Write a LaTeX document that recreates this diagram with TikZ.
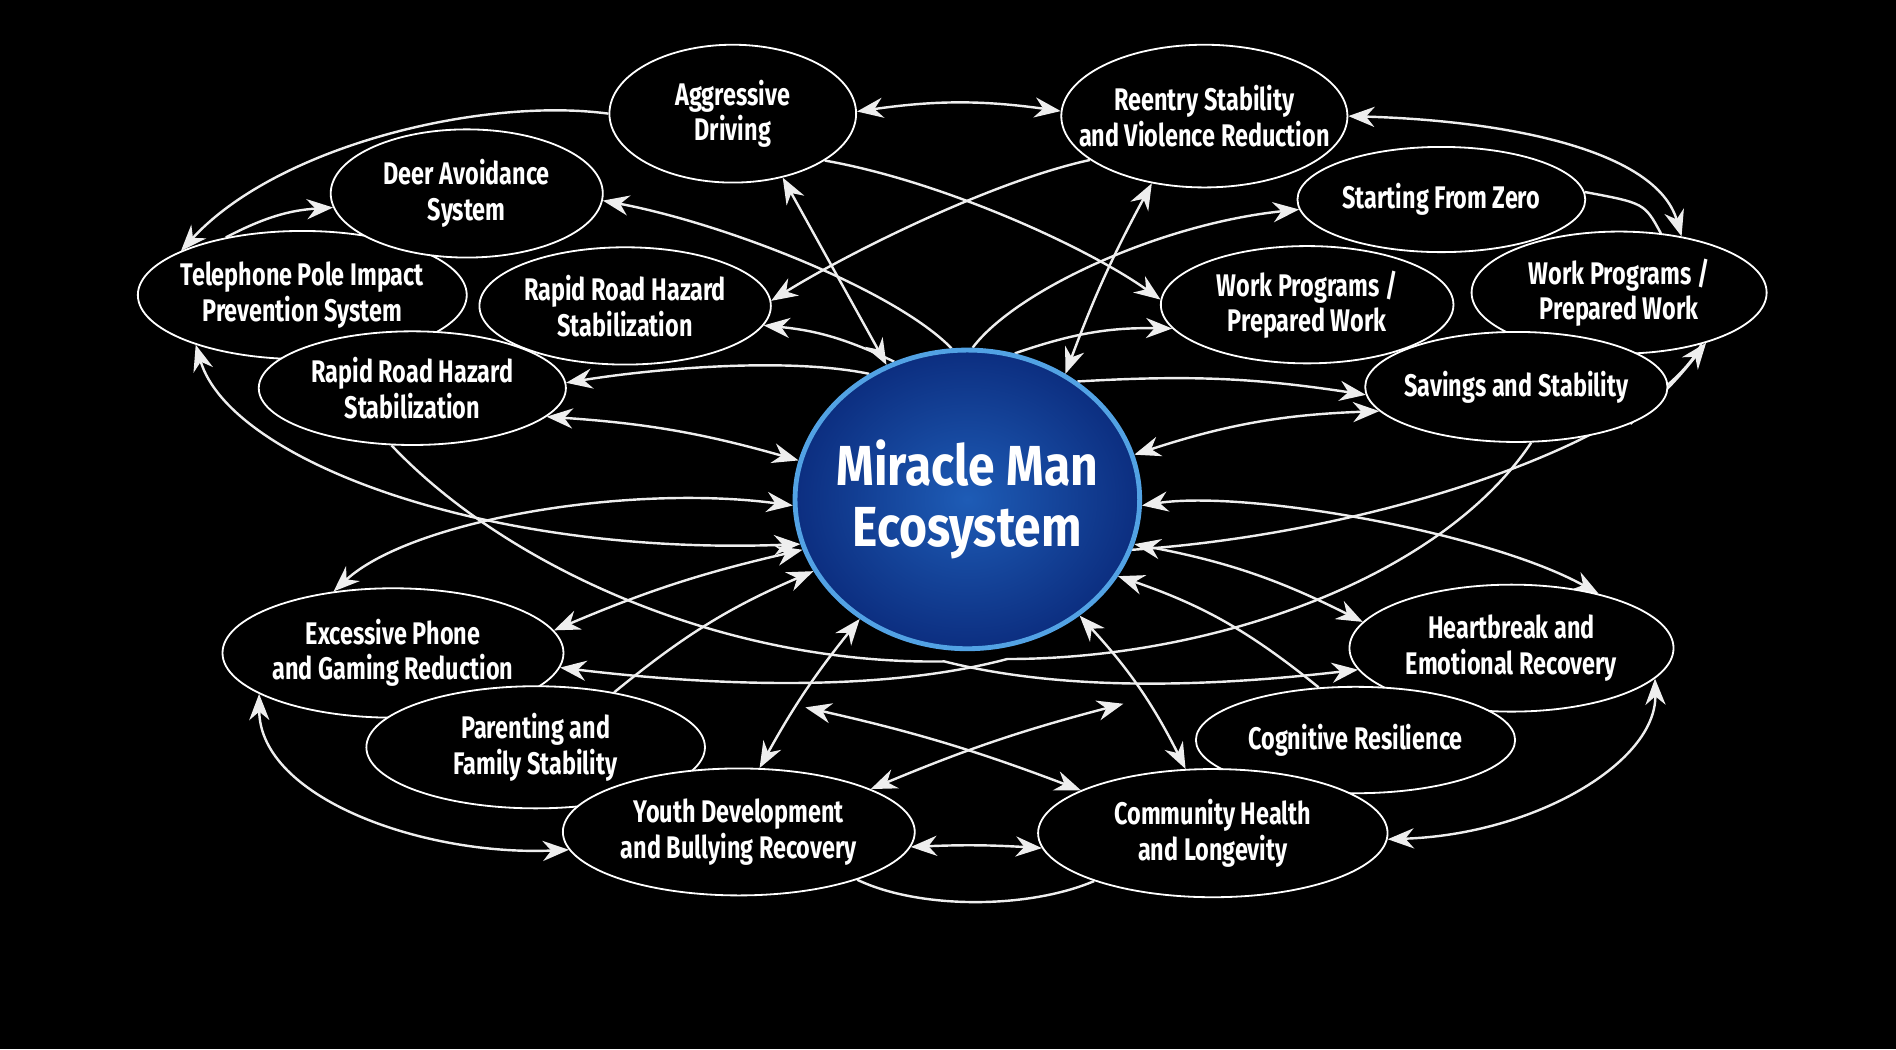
\documentclass[tikz,border=0pt]{standalone}
\usepackage{fontspec}
\setmainfont{Fira Sans}[FakeStretch=0.75]
\newfontfamily\hubfont{Fira Sans}[FakeStretch=0.85]
\usetikzlibrary{arrows.meta,positioning,shapes.geometric}
\definecolor{linegray}{RGB}{238,238,238}
\definecolor{rimblue}{RGB}{82,162,228}
\definecolor{ecoinner}{RGB}{30,92,182}
\definecolor{ecoouter}{RGB}{12,46,128}
\pgfdeclarelayer{backdrop}
\pgfdeclarelayer{links}
\pgfsetlayers{backdrop,links,main}
\tikzset{
bubble/.style={
  ellipse,
  line width=0.9pt,
  draw=white,
  fill=black,
  text=white,
  inner xsep=-12pt,
  inner ysep=0pt,
  align=center,
  font=\bfseries\fontsize{15.5}{17.6}\selectfont,
  }
}
\tikzset{
hub/.style={
  ellipse,
  line width=2.4pt,
  draw=rimblue,
  inner color=ecoinner,
  outer color=ecoouter,
  text=white,
  inner xsep=-12pt,
  inner ysep=0pt,
  align=center,
  font=\hubfont\bfseries\fontsize{28}{30}\selectfont,
  }
}
\tikzset{
myline/.style={
  line width=1.2pt,
  draw=linegray,
  }
}
\tikzset{
myarrow/.style={
  myline,
  -{Stealth[length=13pt,width=10pt]}
  }
}
\tikzset{
mydouble/.style={
  myline,
  {Stealth[length=13pt,width=10pt]}-{Stealth[length=13pt,width=10pt]}
  }
}

\begin{document}
\begin{tikzpicture}[x=0.6pt,y=-0.6pt]
    \useasboundingbox (0,0) rectangle (1568,867.6);
    \begin{pgfonlayer}{backdrop}
    \fill[black] (0,0) rectangle (1568,867.6);
    \end{pgfonlayer}

    % upper left nodes
    \node[bubble, minimum width=163.2pt, minimum height=63.6pt] (pole) at (250,244) {Telephone Pole Impact\\Prevention System};
    \node[bubble, minimum width=135pt, minimum height=63.6pt] (deer) at (386,160) {Deer Avoidance\\System};
    \node[bubble, minimum width=144.6pt, minimum height=58.2pt] (hazA) at (517,253) {Rapid Road Hazard\\Stabilization};
    \node[bubble, minimum width=152.4pt, minimum height=56.4pt] (hazB) at (341,321) {Rapid Road Hazard\\Stabilization};
    \node[bubble, minimum width=122.4pt, minimum height=68.4pt] (agg) at (606,94) {Aggressive\\Driving};

    % upper right nodes
    \node[bubble, minimum width=139.2pt, minimum height=70.8pt] (reentry) at (996,96) {Reentry Stability\\and Violence Reduction};
    \node[bubble, minimum width=146.4pt, minimum height=60.6pt] (workB) at (1339,242) {Work Programs /\\Prepared Work};
    \node[bubble, minimum width=142.8pt, minimum height=52.2pt] (zero) at (1192,165) {Starting From Zero};
    \node[bubble, minimum width=145.2pt, minimum height=58.2pt] (workA) at (1081,252) {Work Programs /\\Prepared Work};
    \node[bubble, minimum width=150pt, minimum height=54.6pt] (savings) at (1254,320) {Savings and Stability};

    % lower left nodes
    \node[bubble, minimum width=169.2pt, minimum height=64.2pt] (phone) at (325,540) {Excessive Phone\\and Gaming Reduction};
    \node[bubble, minimum width=168pt, minimum height=60.6pt] (parent) at (443,618) {Parenting and\\Family Stability};
    \node[bubble, minimum width=174.6pt, minimum height=63pt] (youth) at (611,688) {Youth Development\\and Bullying Recovery};

    % lower right nodes
    \node[bubble, minimum width=160.8pt, minimum height=63pt] (heart) at (1250,536) {Heartbreak and\\Emotional Recovery};
    \node[bubble, minimum width=158.4pt, minimum height=52.8pt] (cogn) at (1121,612) {Cognitive Resilience};
    \node[bubble, minimum width=173.4pt, minimum height=63.6pt] (health) at (1003,689) {Community Health\\and Longevity};

    % hub
    \node[hub, minimum width=171pt, minimum height=148.2pt] (eco) at (800,413) {Miracle Man\\Ecosystem};

    % free ends
    \coordinate (xA) at (666,585);
    \coordinate (xB) at (929,582);
    \coordinate (m1) at (781,547);
    \coordinate (m2) at (833,545);

    \begin{pgfonlayer}{links}
    % top edges
    \draw[mydouble] (agg.1) to[bend left=8] (reentry.178);
    \draw[myarrow] (agg.180) .. controls (400,80) and (230,120) .. (pole.160);
    \draw[myarrow] (pole.143) to[bend left=12] (deer.186);
    \draw[mydouble] (agg.-52) -- (eco.121);
    \draw[mydouble] (reentry.232) to[bend right=4] (eco.52);
    \draw[myarrow] (agg.-27) .. controls (780,150) and (900,205) .. (workA.178);
    \draw[myarrow] (reentry.201) .. controls (820,150) and (700,210) .. (hazA.2);
    \draw[mydouble] (reentry.0) .. controls (1250,100) and (1370,125) .. (workB.42);
    \draw[myline] (zero.3) .. controls (1360,168) .. (workB.55);

    % hub to upper nodes
    \draw[myarrow] (eco.96) .. controls (740,240) and (600,185) .. (deer.-3);
    \draw[myarrow] (eco.118) to[bend right=10] (hazA.-8);
    \draw[myarrow] (eco.128) .. controls (650,295) and (540,305) .. (hazB.2);
    \draw[mydouble] (hazB.-12) to[bend left=6] (eco.167);
    \draw[myarrow] (eco.88) .. controls (840,240) and (960,185) .. (zero.184);
    \draw[myarrow] (eco.72) to[bend left=10] (workA.190);
    \draw[myarrow] (eco.47) to[bend left=6] (savings.183);
    \draw[mydouble] (savings.190) to[bend right=8] (eco.15);
    \draw[myarrow] (savings.-18) to[bend right=5] (workB.-30);
    \draw[myline] (eco.-17) .. controls (1150,440) and (1370,360) .. (workB.-32);

    % left edges
    \draw[mydouble] (pole.205) .. controls (190,380) and (400,460) .. (eco.195);
    \draw[mydouble] (phone.134) .. controls (340,430) and (520,400) .. (eco.182);
    \draw[mydouble] (phone.8) to[bend left=5] (eco.197);
    \draw[myarrow] (parent.35) to[bend left=8] (eco.205);
    \draw[myarrow] (hazB.-110) .. controls (420,470) and (600,550) .. (m1) .. controls (880,572) and (1000,568) .. (heart.188);
    \draw[myarrow] (savings.-75) .. controls (1190,480) and (1000,545) .. (m2) .. controls (720,575) and (570,565) .. (phone.-5);

    % right edges
    \draw[mydouble] (eco.-2) .. controls (1030,405) and (1230,440) .. (heart.32);
    \draw[mydouble] (eco.-15) to[bend left=8] (heart.170);
    \draw[myarrow] (cogn.125) to[bend right=10] (eco.-27);
    \draw[mydouble] (eco.-46) to[bend left=8] (health.113);

    % bottom edges
    \draw[mydouble] (eco.-132) to[bend right=5] (youth.72);
    \draw[mydouble] (youth.-5) to[bend left=3] (health.185);
    \draw[mydouble] (health.162) to[bend right=4] (xA);
    \draw[mydouble] (youth.18) to[bend left=4] (xB);
    \draw[mydouble] (phone.197) .. controls (215,660) and (350,708) .. (youth.186);
    \draw[mydouble] (health.-2) .. controls (1270,690) and (1370,630) .. (heart.-12);
    \draw[myline] (youth.-22) .. controls (760,752) and (850,752) .. (health.-158);
    \end{pgfonlayer}
\end{tikzpicture}
\end{document}
